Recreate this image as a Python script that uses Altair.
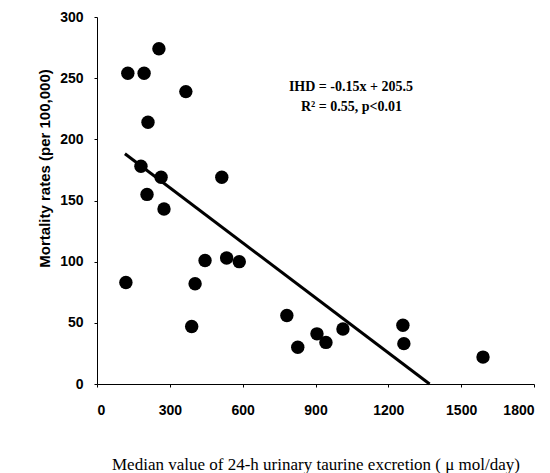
import altair as alt
import pandas as pd

taurine = [119, 127, 194, 255, 366, 210, 181, 264, 206, 276, 514, 404, 390, 445, 534, 586,
           782, 827, 906, 943, 1013, 1260, 1264, 1590]
mortality = [83, 254, 254, 274, 239, 214, 178, 169, 155, 143, 169, 82, 47, 101, 103, 100,
             56, 30, 41, 34, 45, 48, 33, 22]

fit_x = [115, 1370]
slope, intercept = -0.15, 205.5
fit_y = [slope * v + intercept for v in fit_x]

eq_lines = ["IHD = -0.15x + 205.5", "R² = 0.55, p<0.01"]
eq_x = [1046, 1048]
eq_y = [242.8, 226.4]

pts = pd.DataFrame({"x": taurine, "y": mortality})
fit = pd.DataFrame({"x": fit_x, "y": fit_y})
ann = pd.DataFrame({"x": eq_x, "y": eq_y, "t": eq_lines})

xs = alt.Scale(domain=[0, 1800], nice=False, zero=True)
ys = alt.Scale(domain=[0, 300], nice=False, zero=True)

xaxis = alt.Axis(values=[0, 300, 600, 900, 1200, 1500, 1800], grid=False, format="d",
                 title="Median value of 24-h urinary taurine excretion ( \u03bc mol/day)",
                 titleFont="Liberation Serif", titleFontWeight="normal", titleFontSize=17,
                 titlePadding=39, labelFont="Liberation Sans", labelFontWeight="bold",
                 labelFontSize=14, labelPadding=16, tickSize=3, labelColor="black",
                 titleColor="black", domainColor="black", tickColor="black")
yaxis = alt.Axis(values=[0, 50, 100, 150, 200, 250, 300], grid=False, format="d",
                 title="Mortality rates (per 100,000)", titleY=151,
                 titleFont="Liberation Sans", titleFontWeight="bold", titleFontSize=15,
                 titlePadding=7, labelFont="Liberation Sans", labelFontWeight="bold",
                 labelFontSize=14, labelPadding=11, tickSize=3, labelColor="black",
                 titleColor="black", domainColor="black", tickColor="black")

points = alt.Chart(pts).mark_circle(size=180, color="black", opacity=1).encode(
    x=alt.X("x:Q", scale=xs, axis=xaxis),
    y=alt.Y("y:Q", scale=ys, axis=yaxis),
)
line = alt.Chart(fit).mark_line(color="black", strokeWidth=3).encode(
    x=alt.X("x:Q", scale=xs), y=alt.Y("y:Q", scale=ys)
)
text = alt.Chart(ann).mark_text(font="Liberation Serif", fontSize=14, fontWeight="bold",
                                color="black", align="center").encode(
    x=alt.X("x:Q", scale=xs), y=alt.Y("y:Q", scale=ys), text="t:N"
)

chart = (line + points + text).properties(
    width=437, height=367,
    autosize=alt.AutoSizeParams(type="none"),
    padding={"left": 89, "top": 9, "right": 8, "bottom": 95},
).configure_view(stroke=None)

chart.save("out.html", embed_options={"renderer": "svg", "actions": False})
